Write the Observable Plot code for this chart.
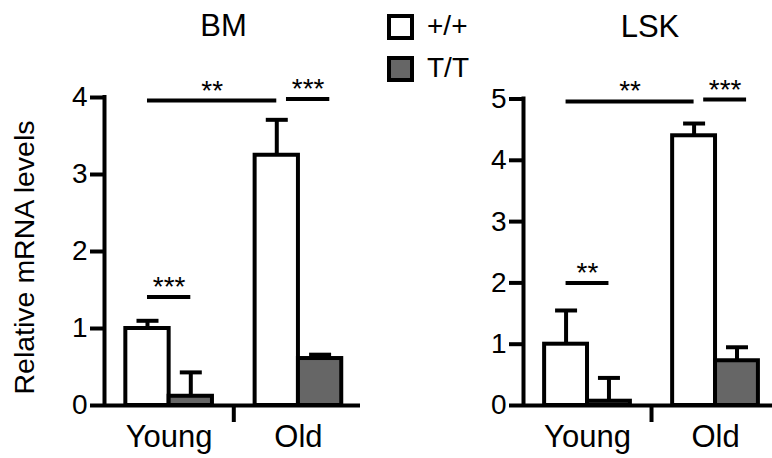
<!DOCTYPE html>
<html>
<head>
<meta charset="utf-8">
<script src="https://cdn.jsdelivr.net/npm/d3@7"></script>
<script src="https://cdn.jsdelivr.net/npm/@observablehq/plot@0.6"></script>
<style>
  html, body { margin: 0; padding: 0; background: #fff; }
  #root { position: relative; width: 772px; height: 458px; font-family: "Liberation Sans", Arial, Helvetica, sans-serif; overflow: hidden; }
  .panel { position: absolute; top: 0; }
  #legend { position: absolute; left: 387px; top: 14px; z-index: 2; font-size: 28px; color: #000; }
  .item { position: relative; height: 42px; }
  .box { position: absolute; left: 0; top: 0; width: 19px; height: 18px; border: 4px solid #000; }
  .lbl { position: absolute; left: 40px; top: -2px; line-height: 28px; white-space: nowrap; }
</style>
</head>
<body>
<div id="root">
  <div id="legend"></div>
</div>
<script>
// ---- data ----
const groups = ["Young", "Old"];
const genotypes = ["+/+", "T/T"];
const genotypeColors = ["#ffffff", "#666666"];
// order: Young +/+, Young T/T, Old +/+, Old T/T
const bmMeans = [1.00, 0.12, 3.25, 0.61];
const bmErrors = [0.10, 0.31, 0.46, 0.05];
const lskMeans = [1.00, 0.07, 4.40, 0.73];
const lskErrors = [0.55, 0.38, 0.20, 0.22];
const bmTicks = [0, 1, 2, 3, 4];
const lskTicks = [0, 1, 2, 3, 4, 5];
const bmSig = [
  {from: 0, to: 2, y: 3.96, label: "**"},
  {from: 2, to: 3, y: 3.98, label: "***"},
  {from: 0, to: 1, y: 1.41, label: "***"}
];
const lskSig = [
  {from: 0, to: 2, y: 4.96, label: "**"},
  {from: 2, to: 3, y: 4.99, label: "***"},
  {from: 0, to: 1, y: 2.00, label: "**"}
];
const yLabel = "Relative mRNA levels";

// ---- helpers ----
const BW = 0.335;   // bar width in group units
const font = "Liberation Sans, Arial, Helvetica, sans-serif";
function bars(means, errors) {
  return means.map((m, i) => {
    const g = Math.floor(i / 2), k = i % 2;
    return {group: groups[g], genotype: genotypes[k], mean: m, err: errors[i],
            x1: g + (k - 1) * BW, x2: g + k * BW, xc: g + (k - 0.5) * BW};
  });
}
function sigRows(sig, data) {
  return sig.map(s => {
    const shift = s.from === 2 ? 0.075 : 0; // separate the adjacent bracket
    const a = data[s.from].xc + shift, b = data[s.to].xc + shift;
    return {...s, a, b, mid: (a + b) / 2};
  });
}
const capSymbol = {
  draw(context, size) {
    const w = Math.sqrt(size / Math.PI);
    context.moveTo(-w, 0);
    context.lineTo(w, 0);
  }
};
const SW = 4;

function panel({title, titleDx, means, errors, ticks, sig, xDomain, width, marginLeft, marginRight, marginTop, withYLabel}) {
  const data = bars(means, errors);
  const srows = sigRows(sig, data);
  const marks = [
    Plot.rect(data, {x1: "x1", x2: "x2", y1: 0, y2: "mean", fill: "genotype", stroke: "#000", strokeWidth: SW}),
    Plot.ruleX(data, {x: "xc", y1: "mean", y2: d => d.mean + d.err, stroke: "#000", strokeWidth: SW}),
    Plot.dot(data, {x: "xc", y: d => d.mean + d.err, symbol: capSymbol, r: 11, fill: "none", stroke: "#000", strokeWidth: SW}),
    Plot.ruleY(srows, {x1: "a", x2: "b", y: "y", stroke: "#000", strokeWidth: SW}),
    Plot.text(srows, {x: "mid", y: "y", text: "label", lineAnchor: "bottom", dy: -1, fontSize: 28, fill: "#000", fontFamily: font}),
    Plot.ruleX([xDomain[0]], {y1: 0, y2: ticks[ticks.length - 1], stroke: "#000", strokeWidth: SW, strokeLinecap: "square"}),
    Plot.ruleY([0], {stroke: "#000", strokeWidth: SW}),
    Plot.axisY({ticks, tickSize: 14, tickPadding: 3, tickFormat: d => String(d), strokeWidth: SW, color: "#000", fontSize: 28, fontFamily: font, label: null}),
    Plot.axisX({ticks: [0.5], tickSize: 17, tickFormat: () => "", strokeWidth: SW, color: "#000", label: null}),
    Plot.axisX({ticks: [0, 1], tickSize: 0, tickPadding: 19, tickFormat: i => groups[i], color: "#000", fontSize: 31, fontFamily: font, label: null}),
    Plot.text([title], {frameAnchor: "top", lineAnchor: "bottom", dy: -62, dx: titleDx, fontSize: 31, fill: "#000", fontFamily: font})
  ];
  if (withYLabel) {
    marks.push(Plot.text([yLabel], {frameAnchor: "left", rotate: -90, textAnchor: "middle", lineAnchor: "bottom", dx: -71, dy: 6, fontSize: 28.5, fill: "#000", fontFamily: font}));
  }
  return Plot.plot({
    width, height: 458,
    marginLeft, marginRight, marginTop, marginBottom: 53,
    style: {fontFamily: font, background: "transparent", overflow: "visible"},
    x: {type: "linear", domain: xDomain, axis: null},
    y: {domain: [0, ticks[ticks.length - 1]], axis: null},
    color: {domain: genotypes, range: genotypeColors},
    marks
  });
}

const root = document.getElementById("root");
const p1 = panel({title: "BM", titleDx: -9, means: bmMeans, errors: bmErrors, ticks: bmTicks, sig: bmSig,
  xDomain: [-0.5, 1.48], width: 390, marginLeft: 104, marginRight: 30, marginTop: 97, withYLabel: true});
p1.classList.add("panel"); p1.style.left = "0px";
root.appendChild(p1);
const p2 = panel({title: "LSK", titleDx: 2, means: lskMeans, errors: lskErrors, ticks: lskTicks, sig: lskSig,
  xDomain: [-0.5, 1.445], width: 382, marginLeft: 133, marginRight: 0, marginTop: 98.5, withYLabel: false});
p2.classList.add("panel"); p2.style.left = "390px";
root.appendChild(p2);

// legend
const legend = document.getElementById("legend");
genotypes.forEach((g, i) => {
  const item = document.createElement("div");
  item.className = "item";
  const box = document.createElement("div");
  box.className = "box";
  box.style.background = genotypeColors[i];
  const lbl = document.createElement("div");
  lbl.className = "lbl";
  lbl.textContent = g;
  item.appendChild(box); item.appendChild(lbl);
  legend.appendChild(item);
});
</script>
</body>
</html>
